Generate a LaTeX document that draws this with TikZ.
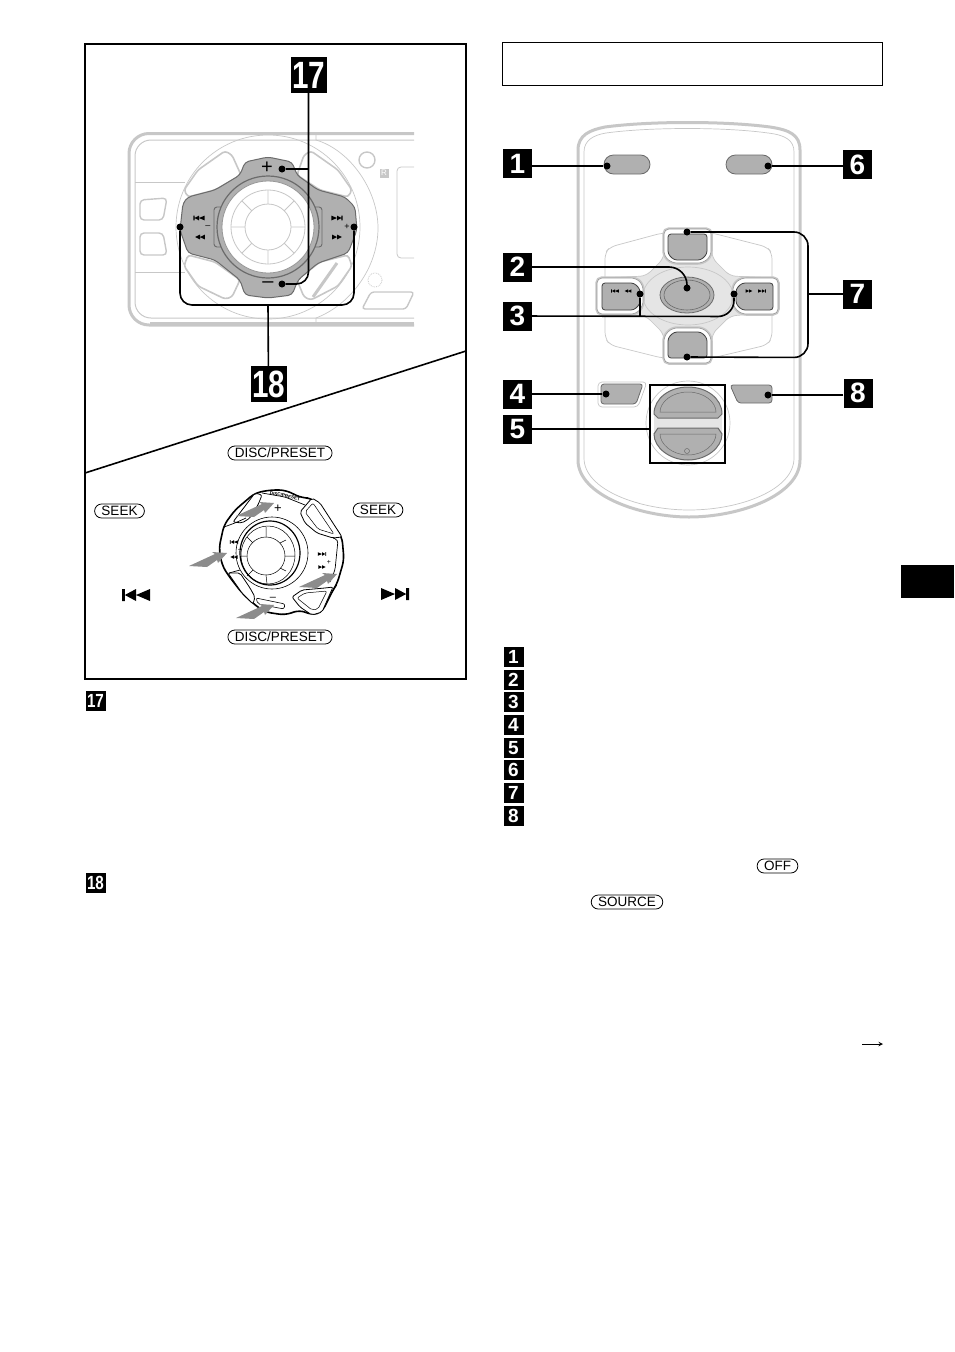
\documentclass[tikz,border=0pt]{standalone}
\usepackage{graphicx}
\usepackage{fontspec}
\setmainfont{Liberation Sans}
\usetikzlibrary{shapes.misc,shapes.geometric,positioning}
\definecolor{keygray}{gray}{.69}
\definecolor{bodygray}{gray}{.78}
\definecolor{palegray}{gray}{.9}
\definecolor{edgegray}{gray}{.42}
\tikzset{
 tagbox/.style={fill=black,text=white,inner sep=0pt,minimum size=29pt,font=\bfseries\fontsize{28}{28}\selectfont},
 smalltag/.style={tagbox,minimum size=20pt,font=\bfseries\fontsize{19}{19}\selectfont},
 bigtag/.style={tagbox,minimum size=36pt,font=\bfseries\fontsize{38}{38}\selectfont},
 keylabel/.style={draw,rounded rectangle,line width=.8pt,inner xsep=5pt,inner ysep=0pt,minimum height=14pt,font=\fontsize{13.5}{14}\selectfont},
 labeldot/.style={circle,fill=black,inner sep=0pt,minimum size=7pt},
 leader/.style={line width=1.6pt,rounded corners=12pt},
 keyshape/.style={fill=keygray,draw=edgegray,line width=.8pt},
 crossouter/.style={fill=white,draw=edgegray!70,line width=.6pt,rounded corners=5pt,preaction={draw=bodygray,line width=3.5pt}},
 faint/.style={draw=bodygray,line width=.7pt},
 whitekey/.style={fill=white,draw=bodygray,line width=1.6pt,rounded corners=3pt},
 dialkey/.style={fill=white,draw=black,line width=.8pt,rounded corners=2pt},
 mark text/.style={inner sep=0pt,font=\fontsize{#1}{#1}\selectfont},
 prevmark/.pic={\fill (-7,-3) rectangle (-5.6,3) (-5.6,0) -- (0,-3) -- (0,3) -- cycle (0,0) -- (7,-3) -- (7,3) -- cycle;},
 ffmark/.pic={\fill (-6,-3) -- (0,0) -- (-6,3) -- cycle (0,-3) -- (6,0) -- (0,3) -- cycle;},
 pressarrow/.pic={\fill[black!45] (-38,13) -- (-12,1) -- (-15,-1) -- (0,0) -- (-9,10) -- (-10,7) -- (-20,14) -- cycle;},
}
\begin{document}
\begin{tikzpicture}[x=1pt,y=-1pt]
 \useasboundingbox (0,0) rectangle (954,1352);
 % left panel
 \node[draw,line width=2pt,minimum width=381pt,minimum height=635pt,inner sep=0pt] (panel) at (275.5,361.5) {};
 \coordinate (cutL) at (85,473);
 \coordinate (cutR) at (466,351);
 \draw[line width=1.6pt] (cutL) -- (cutR);

 % car unit
 \draw[bodygray,line width=3pt,rounded corners=20pt] (414,133.5) -- (129,133.5) -- (129,325) -- (414,325);
 \draw[bodygray,line width=1pt,rounded corners=16pt] (414,140) -- (135,140) -- (135,318) -- (414,318);
 \draw[bodygray,line width=3pt] (150,323) -- (414,323);
 \draw[faint] (316,134) -- (316,140) .. controls (350,150) and (378,190) .. (378,228) .. controls (378,268) and (350,305) .. (316,318) -- (316,325);
 \draw[faint] (135,182) -- (185,182) (135,272) -- (185,272);
 \draw[bodygray,line width=1.4pt,rounded corners=4pt] (140,200) -- (167,198) -- (163,220) -- (140,220) -- cycle;
 \draw[bodygray,line width=1.4pt,rounded corners=4pt] (140,233) -- (163,233) -- (167,255) -- (140,255) -- cycle;
 \draw[bodygray,line width=.8pt,rounded corners=4pt] (414,167) -- (397,167) -- (397,258) -- (414,258);
 \draw[bodygray,line width=1.4pt] (367,160) circle (8);
 \node[fill=bodygray,text=white,inner sep=0pt,minimum size=9pt,font=\fontsize{8}{8}\selectfont] (logoR) at (384,173) {R};
 \draw[bodygray,line width=.8pt,densely dotted] (375,280) circle (7);
 \draw[bodygray,fill=white,line width=1.4pt,rounded corners=3pt] (371,292) -- (414,292) -- (406,309) -- (362,309) -- cycle;
 \draw[faint] (268,227) circle (92);
 % white keys round the dial
 \draw[whitekey] (184,190) -- (198,170) -- (225,151) -- (232,155) -- (241,175) -- (215,190) -- (188,197) -- cycle;
 \draw[whitekey] (352,190) -- (338,170) -- (311,151) -- (304,155) -- (297,175) -- (320,190) -- (348,197) -- cycle;
 \draw[whitekey] (184,266) -- (198,286) -- (225,299) -- (232,297) -- (240,280) -- (215,262) -- (188,255) -- cycle;
 \draw[whitekey] (352,266) -- (338,286) -- (311,300) -- (304,297) -- (297,280) -- (320,262) -- (348,255) -- cycle;
 \draw[bodygray,line width=3pt] (337,263) -- (313,297);
 \draw[edgegray,fill=keygray,line width=1pt,rounded corners=4pt] (240,175) -- (245,162) -- (268,157) -- (292,162) -- (297,175) -- (318,190) -- (345,197) -- (355,207) -- (357,230) -- (348,253) -- (318,263) -- (298,280) -- (292,295) -- (268,298) -- (245,295) -- (240,280) -- (215,260) -- (188,253) -- (180,230) -- (183,203) -- (188,197) -- (215,190) -- cycle;
 \draw[edgegray,fill=keygray,line width=.9pt,rounded corners=3pt] (252,178) rectangle (284,276);
 \draw[edgegray,fill=keygray,line width=.9pt,rounded corners=3pt] (214,207) rectangle (322,247);
 \draw[edgegray,fill=keygray,line width=1.2pt] (268,227) circle (51);
 \draw[edgegray!70,fill=white,line width=.8pt] (268,227) circle (46);
 \draw[bodygray,line width=.8pt] (268,227) circle (37) (268,227) circle (23);
 \draw[bodygray,line width=.8pt] (268,190) -- (268,204) (268,250) -- (268,264) (231,227) -- (245,227) (291,227) -- (305,227) (242,201) -- (252,211) (294,201) -- (284,211) (242,253) -- (252,243) (294,253) -- (284,243);
 \node[mark text=20] (unitplus) at (267,168) {+};
 \node[mark text=20] (unitminus) at (268,285) {–};
 \node[mark text=9] (unitminusL) at (208,227) {–};
 \node[mark text=9] (unitplusR) at (347,227) {+};
 \pic[scale=.8] at (199,218) {prevmark};
 \pic[scale=.8,xscale=-1] at (200,237) {ffmark};
 \pic[scale=.8,xscale=-1] at (337,218) {prevmark};
 \pic[scale=.8] at (337,237) {ffmark};

 % tags of the unit
 \node[bigtag] (tag17) at (308.5,75) {\scalebox{.78}[1]{17}};
 \node[bigtag] (tag18) at (268.5,384) {\scalebox{.78}[1]{18}};
 \node[labeldot] (dplus) at (282,169) {};
 \node[labeldot] (dminus) at (282,284) {};
 \node[labeldot] (dleft) at (180,227) {};
 \node[labeldot] (dright) at (354,227) {};
 \coordinate (stem18) at (268,305);
 \draw[leader] (tag17) -- (308.5,284) -- (dminus);
 \draw[leader,rounded corners=0pt] (dplus) -- (dplus-|tag17);
 \draw[leader] (dleft) -- (180,305) -- (354,305) -- (dright);
 \draw[leader] (stem18) -- (tag18);

 % dial seen from the side
 \node[keylabel] (discUp) at (280,453) {DISC/PRESET};
 \node[keylabel] (discDown) at (280,637) {DISC/PRESET};
 \node[keylabel] (seekL) at (119.5,511) {SEEK};
 \node[keylabel] (seekR) at (378,510) {SEEK};
 \draw[fill=white,line width=1.6pt,rounded corners=6pt] (255,493) -- (270,490) -- (285,490) -- (302,498) -- (312,498) -- (342,537) -- (344,560) -- (337,584) -- (333,590) -- (322,612) -- (312,615) -- (300,610) -- (285,615) -- (265,612) -- (255,605) -- (242,593) -- (228,575) -- (222,565) -- (219,548) -- (224,525) -- (235,510) -- cycle;
 \draw[dialkey] (300,512) -- (312,498) -- (320,503) -- (342,537) -- (333,538) -- (317,533) -- (305,523) -- cycle;
 \draw[line width=.5pt,rounded corners=2pt] (305,512) -- (313,503) -- (334,534) -- (318,529) -- cycle;
 \draw[dialkey] (292,597) -- (302,590) -- (325,588) -- (333,587) -- (322,612) -- (312,615) -- (300,607) -- cycle;
 \draw[line width=.5pt,rounded corners=2pt] (297,598) -- (305,593) -- (327,591) -- (318,609) -- (312,610) -- cycle;
 \draw[dialkey] (228,573) -- (240,573) -- (250,588) -- (255,597) -- (253,604) -- (242,593) -- cycle;
 \draw[dialkey] (233,522) -- (255,493) -- (262,495) -- (258,505) -- (250,518) -- (242,523) -- cycle;
 \draw[line width=.7pt,rounded corners=3pt] (224,527) -- (235,523) -- (246,518) (333,538) -- (338,540) -- (335,570) -- (330,582) (229,573) -- (240,570) (262,493) -- (285,497) -- (305,505);
 \draw[line width=.6pt,rounded corners=2pt] (256,598) -- (285,604) -- (284,609) -- (258,604) -- cycle;
 \draw[line width=.6pt] (272,553) circle (36);
 \draw[fill=white,line width=1.2pt] (270,553) ellipse (30 and 32);
 \draw[line width=.5pt] (268,555) ellipse (27 and 29);
 \draw[line width=.5pt] (266,556) circle (19);
 \draw[line width=.5pt] (266,527) -- (266,537) (266,575) -- (267,584) (241,556) -- (247,556) (285,556) -- (295,556) (247,537) -- (253,543) (286,540) -- (280,543) (247,576) -- (253,570) (286,571) -- (280,568);
 \node[mark text=4.6,font=\bfseries\fontsize{4.6}{5}\selectfont,rotate=-12] (dialname) at (285,496) {DISC/PRESET};
 \node[mark text=13] (dialplus) at (278,509) {+};
 \node[mark text=11] (dialminus) at (273,599) {–};
 \node[mark text=7] (dialminusL) at (240,550) {–};
 \node[mark text=7] (dialplusR) at (329,562) {+};
 \pic[scale=.6] at (234,542) {prevmark};
 \pic[scale=.6,xscale=-1] at (234,557) {ffmark};
 \pic[scale=.6,xscale=-1] at (322,554) {prevmark};
 \pic[scale=.6] at (322,567) {ffmark};
 \pic at (227,553) {pressarrow};
 \pic at (274,503) {pressarrow};
 \pic at (337,574) {pressarrow};
 \pic at (274,605) {pressarrow};
 \pic[scale=2] at (136,595) {prevmark};
 \pic[scale=2,xscale=-1] at (395,594) {prevmark};

 \node[smalltag] (note17) at (95.5,701) {\scalebox{.8}[1]{17}};
 \node[smalltag] (note18) at (95.5,883) {\scalebox{.8}[1]{18}};

 % right panel
 \node[draw,line width=.8pt,minimum width=380pt,minimum height=43pt,inner sep=0pt] (titlebox) at (692.5,64) {};
 \node[fill=black,minimum width=53pt,minimum height=33pt,inner sep=0pt] (thumbtab) at (927.5,581.5) {};

 % remote
 \draw[fill=white,draw=bodygray,line width=3pt] (578,150) .. controls (578,135) and (590,130) .. (605,127) .. controls (650,121) and (725,121) .. (770,127) .. controls (790,130) and (800,135) .. (800,150) -- (800,460) .. controls (800,495) and (740,517) .. (689,517) .. controls (640,517) and (578,495) .. (578,460) -- cycle;
 \draw[faint] (584,152) .. controls (584,140) and (594,135) .. (606,133) .. controls (650,127) and (725,127) .. (768,133) .. controls (785,135) and (794,140) .. (794,152) -- (794,458) .. controls (794,490) and (740,510) .. (689,510) .. controls (640,510) and (584,490) .. (584,458) -- cycle;
 \draw[faint,rounded corners=6pt] (605,253) -- (610,247) -- (662,233) -- (712,233) -- (767,247) -- (772,253) -- (772,338) -- (767,345) -- (712,358) -- (662,358) -- (610,345) -- (605,338) -- cycle;
 \draw[fill=palegray,draw=bodygray,line width=.7pt,rounded corners=6pt] (664,232) -- (712,232) -- (712,258) -- (730,276) -- (776,278) -- (776,312) -- (730,316) -- (712,334) -- (712,362) -- (664,362) -- (664,334) -- (646,316) -- (600,312) -- (600,278) -- (646,276) -- (664,258) -- cycle;
 \draw[bodygray,line width=.7pt] (688,296) ellipse (45 and 29);
 \node[keyshape,rounded rectangle,minimum width=46pt,minimum height=19pt,inner sep=0pt] (btnSource) at (627,164.5) {};
 \node[keyshape,rounded rectangle,minimum width=46pt,minimum height=19pt,inner sep=0pt] (btnOff) at (749,164.5) {};
 % cross keys
 \draw[crossouter] (664,229) -- (711,229) -- (711,256) -- (703,263) -- (672,263) -- (664,256) -- cycle;
 \draw[keyshape,draw=black!75,rounded corners=3pt] (668,234) -- (707,234) -- (707,254) -- (701,260) -- (674,260) -- (668,254) -- cycle;
 \draw[crossouter] (664,363) -- (711,363) -- (711,336) -- (703,328) -- (672,328) -- (664,336) -- cycle;
 \draw[keyshape,draw=black!75,rounded corners=3pt] (668,358) -- (707,358) -- (707,338) -- (701,332) -- (674,332) -- (668,338) -- cycle;
 \draw[crossouter] (597,278) -- (636,278) -- (643,285) -- (643,306) -- (636,314) -- (597,314) -- cycle;
 \draw[keyshape,draw=black!75,rounded corners=3pt] (602,283) -- (634,283) -- (640,289) -- (640,304) -- (634,310) -- (602,310) -- cycle;
 \draw[crossouter] (778,278) -- (741,278) -- (733,285) -- (733,306) -- (741,314) -- (778,314) -- cycle;
 \draw[keyshape,draw=black!75,rounded corners=3pt] (773,283) -- (742,283) -- (736,289) -- (736,304) -- (742,310) -- (773,310) -- cycle;
 \node[keyshape,ellipse,minimum width=54pt,minimum height=36pt,inner sep=0pt] (btnList) at (687,295) {};
 \draw[edgegray,line width=.6pt] (687,295) ellipse (23 and 15);
 \pic[scale=.55] at (615,291) {prevmark};
 \pic[scale=.55,xscale=-1] at (628,291) {ffmark};
 \pic[scale=.55] at (749,291) {ffmark};
 \pic[scale=.55,xscale=-1] at (762,291) {prevmark};
 % lower keys
 \draw[faint,rounded corners=4pt] (598,382) -- (647,382) -- (638,407) -- (598,407) -- cycle;
 \draw[keyshape,rounded corners=3pt] (601,384) -- (643,384) -- (636,404) -- (601,404) -- cycle;
 \draw[keyshape,rounded corners=3pt] (730,385) -- (772,385) -- (772,403) -- (738,403) -- cycle;
 \draw[bodygray,line width=.7pt] (688,423) circle (42);
 \draw[fill=palegray,draw=none] (654,410) rectangle (722,436);
 \draw[keyshape,line width=1pt] (654,414) .. controls (654,398) and (670,387) .. (688,387) .. controls (706,387) and (722,398) .. (722,414) -- (718,418) -- (658,418) -- cycle;
 \draw[edgegray,line width=.5pt] (660,412) .. controls (660,402) and (672,392) .. (688,392) .. controls (704,392) and (716,402) .. (716,412) -- (660,412) -- cycle;
 \draw[keyshape,line width=1pt] (654,434) -- (658,428) -- (718,428) -- (722,434) .. controls (722,448) and (706,460) .. (688,460) .. controls (670,460) and (654,448) .. (654,434) -- cycle;
 \draw[edgegray,line width=.5pt] (660,434) -- (716,434) .. controls (716,444) and (704,455) .. (688,455) .. controls (672,455) and (660,444) .. (660,434) -- cycle;
 \draw[edgegray,line width=.5pt] (687,451) circle (2.5);
 \node[draw,line width=1.4pt,minimum width=75pt,minimum height=78pt,inner sep=0pt] (volbox) at (687.5,424) {};

 % tags of the remote
 \node[tagbox] (tag1) at (517.5,163.5) {1};
 \node[tagbox] (tag2) at (517.5,267) {2};
 \node[tagbox] (tag3) at (517.5,316) {3};
 \node[tagbox] (tag4) at (517.5,394) {4};
 \node[tagbox] (tag5) at (517.5,429) {5};
 \node[tagbox] (tag6) at (857.5,164.5) {6};
 \node[tagbox] (tag7) at (857.5,294) {7};
 \node[tagbox] (tag8) at (858,393) {8};
 \node[labeldot] (d1) at (607,166) {};
 \node[labeldot] (d2) at (687,288) {};
 \node[labeldot] (d3a) at (640,294) {};
 \node[labeldot] (d3b) at (734,294) {};
 \node[labeldot] (d4) at (606,394) {};
 \node[labeldot] (d6) at (768,166) {};
 \node[labeldot] (d7a) at (687,232) {};
 \node[labeldot] (d7b) at (687,357) {};
 \node[labeldot] (d8) at (768,395) {};
 \draw[leader] (tag1.east|-d1) -- (d1);
 \draw[leader] (tag6.west|-d6) -- (d6);
 \draw[leader,rounded corners=18pt] (tag2) -- (687,267) -- (d2);
 \draw[leader,rounded corners=16pt] (tag3) -- (734,316.5) -- (d3b);
 \draw[leader,rounded corners=0pt] (640,316.5) -- (d3a);
 \draw[leader] (tag4.east|-d4) -- (d4);
 \draw[leader] (tag5) -- (volbox.west|-tag5);
 \draw[leader,rounded corners=14pt] (d7a) -- (808,232) -- (808,357.5) -- (d7b);
 \draw[leader] (tag7) -- (808,294);
 \draw[leader] (tag8.west|-d8) -- (d8);

 % list
 \node[smalltag] (note1) at (513.5,657) {1};
 \node[smalltag] (note2) at (513.5,680) {2};
 \node[smalltag] (note3) at (513.5,702) {3};
 \node[smalltag] (note4) at (513.5,725) {4};
 \node[smalltag] (note5) at (513.5,748) {5};
 \node[smalltag] (note6) at (513.5,770) {6};
 \node[smalltag] (note7) at (513.5,793) {7};
 \node[smalltag] (note8) at (513.5,816) {8};
 \node[keylabel] (keyOff) at (777.5,866) {OFF};
 \node[keylabel] (keySource) at (627,902) {SOURCE};
 \coordinate (nextA) at (862,1044);
 \coordinate (nextB) at (883,1044);
 \draw[-stealth,line width=1pt] (nextA) -- (nextB);
\end{tikzpicture}
\end{document}
